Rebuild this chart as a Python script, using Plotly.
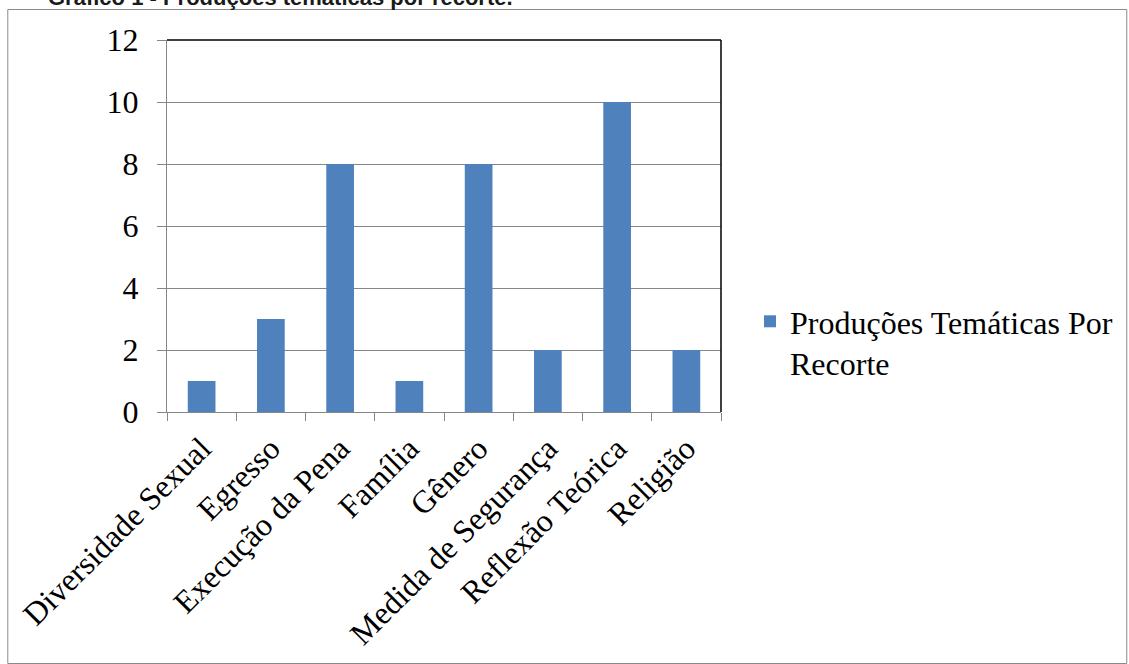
import plotly.graph_objects as go

categories = ["Diversidade Sexual", "Egresso", "Execução da Pena", "Família",
              "Gênero", "Medida de Segurança", "Reflexão Teórica", "Religião"]
values = [1, 3, 8, 1, 8, 2, 10, 2]
series_name = "Produções Temáticas Por<br>Recorte"
title_text = "Gráfico 1 - Produções temáticas por recorte."
y_ticks = [0, 2, 4, 6, 8, 10, 12]

W, H = 1129, 664
L, R, T, B = 167, 1129 - 722, 40, 664 - 412
pw, ph = W - L - R, H - T - B

def px(x):
    return (x - L) / pw

def py(y):
    return (H - B - y) / ph

serif = "Liberation Serif, Times New Roman, serif"
grid = "#868686"
fs = 32

fig = go.Figure()
fig.add_trace(go.Bar(x=categories, y=values, name=series_name,
                     marker=dict(color="#4F81BD", line=dict(width=0)),
                     showlegend=True))

fig.update_layout(
    width=W, height=H,
    margin=dict(l=L, r=R, t=T, b=B, pad=0),
    paper_bgcolor="white", plot_bgcolor="white",
    bargap=0.6,
    font=dict(family=serif, size=fs, color="black"),
    showlegend=True,
    legend=dict(x=px(750), y=py(294), xanchor="left", yanchor="top",
                font=dict(family=serif, size=fs, color="black"),
                itemwidth=30, valign="top", bgcolor="rgba(0,0,0,0)",
                tracegroupgap=0),
    xaxis=dict(type="category", showgrid=False, showline=True, linecolor=grid,
               linewidth=1, ticks="outside", ticklen=8, tickcolor=grid,
               tickson="boundaries", tickangle=-45, ticklabelstandoff=4,
               tickfont=dict(family=serif, size=fs, color="black"),
               range=[-0.5, len(categories) - 0.5]),
    yaxis=dict(range=[0, 12], tickvals=y_ticks, showgrid=True, gridcolor=grid,
               gridwidth=1, showline=True, linecolor=grid, linewidth=1,
               ticks="outside", ticklen=9, tickcolor=grid, zeroline=False,
               ticklabelstandoff=12,
               tickfont=dict(family=serif, size=fs, color="black")),
    shapes=[
        dict(type="rect", xref="paper", yref="paper",
             x0=px(7.5), x1=px(1128.5), y0=py(663.5), y1=py(9.5),
             line=dict(color="#8a8a8a", width=1), layer="below"),
        dict(type="line", xref="paper", yref="paper",
             x0=0, x1=1, y0=1, y1=1, line=dict(color="black", width=1.5)),
        dict(type="line", xref="paper", yref="paper",
             x0=1, x1=1, y0=0, y1=1, line=dict(color="black", width=1.5)),
    ],
    annotations=[
        dict(text=title_text, xref="paper", yref="paper",
             x=px(46), y=py(12), xanchor="left", yanchor="bottom",
             showarrow=False,
             font=dict(family="Liberation Sans, Arial, sans-serif", size=22,
                       color="#1a1a1a", weight="bold")),
    ],
)

fig.write_html("out.html")
